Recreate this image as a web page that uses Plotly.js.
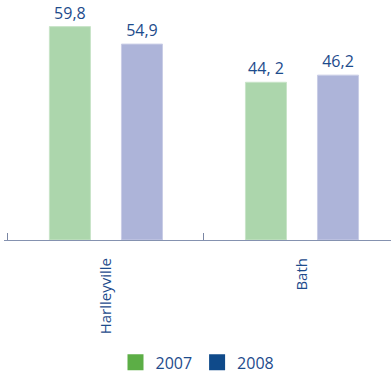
<!DOCTYPE html>
<html>
<head>
<meta charset="utf-8">
<script src="https://cdn.plot.ly/plotly-3.0.1.min.js"></script>
<style>html,body{margin:0;padding:0;background:#fff;}#chart{width:391px;height:375px;}</style>
</head>
<body>
<div id="chart"></div>
<script>
const categories = ["Harlleyville", "Bath"];
const series2007 = [59.8, 44.2];
const series2008 = [54.9, 46.2];
const seriesNames = ["2007", "2008"];
const labels2007 = ["59,8", "44, 2"];
const labels2008 = ["54,9", "46,2"];

const textBlue = "#1d4b8c";
const fontFam = "'Open Sans', 'Noto Sans', sans-serif";

const traces = [
  {
    type: "bar", x: categories, y: series2007, name: seriesNames[0],
    text: labels2007, textposition: "outside", cliponaxis: false,
    textfont: {color: textBlue, size: 16, family: fontFam},
    marker: {color: "#acd6ac", line: {color: "#c8e4c8", width: 1}},
    showlegend: false, hoverinfo: "skip"
  },
  {
    type: "bar", x: categories, y: series2008, name: seriesNames[1],
    text: labels2008, textposition: "outside", cliponaxis: false,
    textfont: {color: textBlue, size: 16, family: fontFam},
    marker: {color: "#adb4d9", line: {color: "#c9cde6", width: 1}},
    showlegend: false, hoverinfo: "skip"
  },
  {
    type: "scatter", mode: "markers", x: [null], y: [null], name: seriesNames[0],
    marker: {symbol: "square", size: 19, color: "#5cae46"}, showlegend: true
  },
  {
    type: "scatter", mode: "markers", x: [null], y: [null], name: seriesNames[1],
    marker: {symbol: "square", size: 19, color: "#0f4a8a"}, showlegend: true
  }
];

const layout = {
  width: 391, height: 375,
  margin: {l: 4, r: 0, t: 0, b: 135, pad: 0, autoexpand: false},
  paper_bgcolor: "#ffffff", plot_bgcolor: "#ffffff",
  barmode: "group", bargap: 0.265, bargroupgap: 0.43,
  font: {family: fontFam, color: textBlue},
  xaxis: {
    type: "category", range: [-0.52, 1.454], automargin: false,
    showline: true, linecolor: "#8592b0", linewidth: 1,
    ticks: "inside", tickson: "boundaries", ticklen: 7, tickcolor: "#7a86a4", tickwidth: 1,
    tickangle: -90, tickfont: {size: 15, color: textBlue, family: fontFam},
    ticklabelstandoff: 11,
    showgrid: false, zeroline: false, fixedrange: true
  },
  yaxis: {
    range: [0, 67.26], visible: false, showgrid: false, zeroline: false, fixedrange: true, automargin: false
  },
  showlegend: true,
  legend: {
    orientation: "h", x: 0.5, xanchor: "center", y: -0.51, yanchor: "middle",
    font: {size: 16, color: textBlue, family: fontFam},
    itemsizing: "trace", itemwidth: 30, bgcolor: "rgba(0,0,0,0)"
  }
};

Plotly.newPlot("chart", traces, layout, {displayModeBar: false, staticPlot: true});
</script>
</body>
</html>
